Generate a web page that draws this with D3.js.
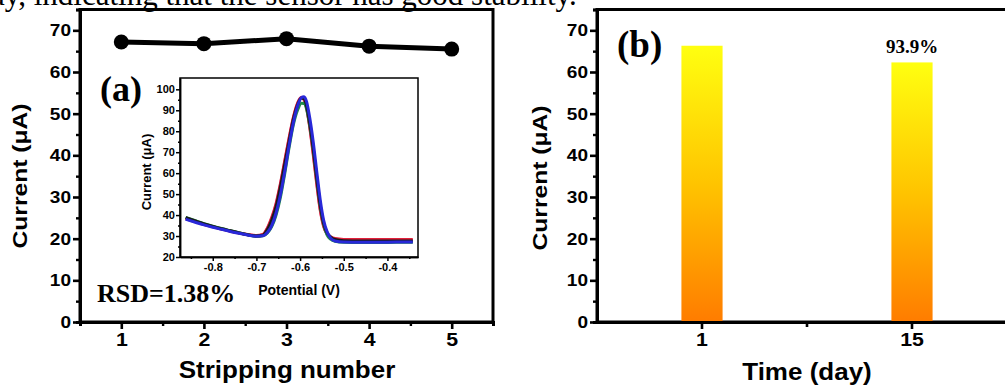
<!DOCTYPE html>
<html>
<head>
<meta charset="utf-8">
<script src="https://cdn.jsdelivr.net/npm/d3@7.9.0/dist/d3.min.js"></script>
<style>
  body { margin: 0; background: #fff; }
  svg { display: block; }
  .sans { font-family: "Liberation Sans", Arial, sans-serif; font-weight: bold; }
  .serif { font-family: "Liberation Serif", "Times New Roman", serif; }
  .axis path, .axis line { stroke: #000; }
  .axis text { font-family: "Liberation Sans", Arial, sans-serif; font-weight: bold; fill: #000; }
</style>
</head>
<body>
<svg id="chart" width="1005" height="385"></svg>
<script>
// ---- data ----
const caption = 'ay, indicating that the sensor has good stability.';

// (a) repeated stripping
const strippingNo = [1, 2, 3, 4, 5];
const strippingCurrent = [67.2, 66.8, 68.0, 66.2, 65.5];
const rsdLabel = 'RSD=1.38%';

// (a) inset: stripping voltammograms
const potential = [-0.862, -0.84, -0.82, -0.80, -0.78, -0.76, -0.74, -0.72, -0.70, -0.685,
  -0.675, -0.665, -0.655, -0.645, -0.635, -0.625, -0.615, -0.605, -0.597, -0.591,
  -0.585, -0.578, -0.57, -0.562, -0.554, -0.546, -0.538, -0.53, -0.52, -0.50,
  -0.46, -0.42, -0.38, -0.342];
const curvePink = [38.2, 36.8, 35.5, 34.4, 33.3, 32.3, 31.4, 30.6, 30.1, 30.7,
  33.5, 38.3, 45, 54.5, 65.5, 76.5, 86.5, 93.5, 96.2, 95.3,
  91.5, 82.5, 70, 56, 43, 35, 31, 29.4, 28.5, 28.1, 28.0, 28.0, 28.0, 28.0];
const curveRed = [38.5, 37.0, 35.6, 34.5, 33.4, 32.4, 31.5, 30.7, 30.2, 30.8,
  33.8, 38.8, 45.5, 55, 66, 77, 87, 93.8, 96, 95,
  91, 82, 69, 55, 42.5, 34.5, 31, 29.6, 28.8, 28.4, 28.3, 28.3, 28.4, 28.4];
const curveGreen = [38.9, 37.3, 35.9, 34.7, 33.6, 32.6, 31.6, 30.6, 29.9, 30.1,
  31.5, 34.5, 40, 48.5, 60, 72.5, 83.5, 90.5, 93.3, 93.2,
  90.5, 83, 71.5, 57.5, 44.5, 35.5, 30.5, 28.5, 27.5, 27, 26.9, 26.9, 27, 27];
const curveBlack = [38.8, 37.2, 35.8, 34.6, 33.5, 32.5, 31.5, 30.6, 30.0, 30.4,
  33.0, 37.5, 44, 53.5, 64.5, 75.5, 86, 93, 95.8, 95.5,
  92, 84, 72, 58, 45, 36, 31.5, 29.5, 28.4, 27.8, 27.6, 27.6, 27.6, 27.6];
const curveBlue = [38, 36.6, 35.3, 34.2, 33.2, 32.2, 31.3, 30.5, 29.9, 30.1,
  31.7, 35, 41, 49.8, 61, 73.5, 84.5, 92.5, 96, 96.5,
  94, 86.5, 75, 61, 47.5, 37.5, 32, 29, 27.6, 27.1, 27.0, 27.0, 27.1, 27.1];
const insetCurves = [
  { color: '#e0309a', values: curvePink },
  { color: '#e3203c', values: curveRed },
  { color: '#1f8a4a', values: curveGreen },
  { color: '#1a1a1a', values: curveBlack },
  { color: '#2828d8', values: curveBlue }
];

// (b) storage stability
const days = ['1', '15'];
const dayCurrent = [66.3, 62.3];
const retentionLabel = '93.9%';

// ---- helpers ----
const svg = d3.select('#chart');

function stretch(sel, k) {
  sel.each(function() {
    const w = this.getComputedTextLength();
    this.setAttribute('textLength', w * k);
    this.setAttribute('lengthAdjust', 'spacingAndGlyphs');
  });
}

function styleAxis(g, major, fontSize, k) {
  g.attr('class', 'axis');
  g.select('.domain').attr('stroke-width', 3);
  g.selectAll('.tick line').attr('stroke-width', major ? 2.6 : 2.4);
  g.selectAll('.tick text').style('font-size', fontSize + 'px').call(stretch, k);
}

// caption line, cropped at the top like the source figure
svg.append('text')
  .attr('class', 'serif')
  .attr('x', -9).attr('y', 5)
  .style('font-size', '31px')
  .text(caption);

// ---- panel (a) ----
const aLeft = 80, aRight = 493, plotBottom = 322;
const xA = d3.scaleLinear().domain([0.5, 5.5]).range([aLeft, aRight]);
const yI = d3.scaleLinear().domain([0, 75]).range([plotBottom, 9.5]);

const pa = svg.append('g');

pa.append('rect')
  .attr('x', aLeft).attr('y', yI(75))
  .attr('width', aRight - aLeft).attr('height', plotBottom - yI(75))
  .attr('fill', 'none').attr('stroke', '#000').attr('stroke-width', 3);

// minor ticks
pa.append('g').attr('transform', `translate(${aLeft},0)`)
  .call(d3.axisLeft(yI).tickValues(d3.range(5, 76, 10)).tickSize(4).tickFormat(''))
  .call(g => styleAxis(g, false, 10, 1));
pa.append('g').attr('transform', `translate(0,${plotBottom})`)
  .call(d3.axisBottom(xA).tickValues([1.5, 2.5, 3.5, 4.5]).tickSize(4).tickFormat(''))
  .call(g => styleAxis(g, false, 10, 1));

pa.append('g').attr('transform', `translate(${aLeft},0)`)
  .call(d3.axisLeft(yI).tickValues(d3.range(0, 71, 10)).tickSize(7).tickPadding(2).tickSizeOuter(0))
  .call(g => styleAxis(g, true, 17, 1.12));
pa.append('g').attr('transform', `translate(0,${plotBottom})`)
  .call(d3.axisBottom(xA).tickValues(strippingNo).tickSize(7).tickPadding(4).tickSizeOuter(0).tickFormat(d3.format('d')))
  .call(g => styleAxis(g, true, 18.5, 1.15));

const ptsA = strippingNo.map((d, i) => [d, strippingCurrent[i]]);
pa.append('path')
  .datum(ptsA)
  .attr('fill', 'none').attr('stroke', '#000').attr('stroke-width', 5)
  .attr('d', d3.line().x(d => xA(d[0])).y(d => yI(d[1])));
pa.selectAll('circle.pt')
  .data(ptsA)
  .join('circle')
  .attr('class', 'pt')
  .attr('cx', d => xA(d[0])).attr('cy', d => yI(d[1]))
  .attr('r', 7.5).attr('fill', '#000');

pa.append('text').attr('class', 'serif')
  .attr('x', 100).attr('y', 101)
  .style('font-size', '36px').style('font-weight', 'bold')
  .text('(a)');

pa.append('text').attr('class', 'serif')
  .attr('x', 97).attr('y', 302)
  .style('font-size', '26px').style('font-weight', 'bold')
  .text(rsdLabel);

pa.append('text').attr('class', 'sans')
  .attr('transform', `translate(27,176) rotate(-90)`)
  .attr('text-anchor', 'middle')
  .style('font-size', '20.5px')
  .text('Current (μA)')
  .call(stretch, 1.2);

pa.append('text').attr('class', 'sans')
  .attr('x', 287).attr('y', 378)
  .attr('text-anchor', 'middle')
  .style('font-size', '23px')
  .text('Stripping number')
  .call(stretch, 1.13);

// ---- inset ----
const ix0 = 180, ix1 = 418, iy0 = 78, iy1 = 257;
const xP = d3.scaleLinear().domain([-0.875, -0.33]).range([ix0, ix1]);
const yP = d3.scaleLinear().domain([20, 105.4]).range([iy1, iy0]);
const inset = pa.append('g');

inset.append('rect')
  .attr('x', ix0).attr('y', iy0)
  .attr('width', ix1 - ix0).attr('height', iy1 - iy0)
  .attr('fill', '#fff').attr('stroke', '#000').attr('stroke-width', 1.5);

const lineP = d3.line()
  .x((d, i) => xP(potential[i]))
  .y(d => yP(d))
  .curve(d3.curveMonotoneX);
inset.selectAll('path.cv')
  .data(insetCurves)
  .join('path')
  .attr('class', 'cv')
  .attr('fill', 'none')
  .attr('stroke', d => d.color)
  .attr('stroke-width', 3)
  .attr('d', d => lineP(d.values));

function styleInset(g, fs) {
  g.attr('class', 'axis');
  g.select('.domain').attr('stroke-width', 1.5);
  g.selectAll('.tick line').attr('stroke-width', 1.5);
  g.selectAll('.tick text').style('font-size', fs + 'px').call(stretch, 1.05);
}
const hyphenFmt = d => d.toFixed(1).replace('−', '-');
inset.append('g').attr('transform', `translate(${ix0},0)`)
  .call(d3.axisLeft(yP).tickValues(d3.range(25, 101, 10)).tickSize(2).tickFormat('').tickSizeOuter(0))
  .call(g => styleInset(g, 10));
inset.append('g').attr('transform', `translate(${ix0},0)`)
  .call(d3.axisLeft(yP).tickValues(d3.range(20, 101, 10)).tickSize(4).tickPadding(1).tickSizeOuter(0))
  .call(g => styleInset(g, 10.5));
inset.append('g').attr('transform', `translate(0,${iy1})`)
  .call(d3.axisBottom(xP).tickValues([-0.85, -0.75, -0.65, -0.55, -0.45, -0.35]).tickSize(2).tickFormat('').tickSizeOuter(0))
  .call(g => styleInset(g, 10));
inset.append('g').attr('transform', `translate(0,${iy1})`)
  .call(d3.axisBottom(xP).tickValues([-0.8, -0.7, -0.6, -0.5, -0.4]).tickSize(4).tickPadding(3).tickSizeOuter(0).tickFormat(hyphenFmt))
  .call(g => styleInset(g, 10.5));

inset.append('text').attr('class', 'sans')
  .attr('transform', `translate(151,172) rotate(-90)`)
  .attr('text-anchor', 'middle')
  .style('font-size', '13px')
  .text('Current (μA)');

inset.append('text').attr('class', 'sans')
  .attr('x', 299).attr('y', 295)
  .attr('text-anchor', 'middle')
  .style('font-size', '14px')
  .text('Potential (V)');

// ---- panel (b) ----
const bLeft = 597, bRight = 1017;
const xB = d3.scaleBand().domain(days).range([bLeft, bRight]).padding(0);
const pb = svg.append('g');

const grad = svg.append('defs').append('linearGradient')
  .attr('id', 'barGrad').attr('x1', 0).attr('y1', 0).attr('x2', 0).attr('y2', 1);
grad.append('stop').attr('offset', '0%').attr('stop-color', '#ffff10');
grad.append('stop').attr('offset', '50%').attr('stop-color', '#ffc400');
grad.append('stop').attr('offset', '100%').attr('stop-color', '#ff7c00');

pb.append('rect')
  .attr('x', bLeft).attr('y', yI(75))
  .attr('width', bRight - bLeft).attr('height', plotBottom - yI(75))
  .attr('fill', 'none').attr('stroke', '#000').attr('stroke-width', 3);

const barW = xB.bandwidth() * 0.196;
pb.selectAll('rect.bar')
  .data(days)
  .join('rect')
  .attr('class', 'bar')
  .attr('x', d => xB(d) + xB.bandwidth() / 2 - barW / 2)
  .attr('width', barW)
  .attr('y', (d, i) => yI(dayCurrent[i]))
  .attr('height', (d, i) => plotBottom - yI(dayCurrent[i]))
  .attr('fill', 'url(#barGrad)');

pb.append('g').attr('transform', `translate(${bLeft},0)`)
  .call(d3.axisLeft(yI).tickValues(d3.range(5, 76, 10)).tickSize(4).tickFormat(''))
  .call(g => styleAxis(g, false, 10, 1));
pb.append('g').attr('transform', `translate(${bLeft},0)`)
  .call(d3.axisLeft(yI).tickValues(d3.range(0, 71, 10)).tickSize(7).tickPadding(2).tickSizeOuter(0))
  .call(g => styleAxis(g, true, 17, 1.12));
pb.append('g').attr('transform', `translate(0,${plotBottom})`)
  .call(d3.axisBottom(xB).tickSize(7).tickPadding(4).tickSizeOuter(0))
  .call(g => styleAxis(g, true, 18.5, 1.15));
// tick between the two days
pb.append('line')
  .attr('x1', xB(days[1])).attr('x2', xB(days[1]))
  .attr('y1', plotBottom).attr('y2', plotBottom + 5)
  .attr('stroke', '#000').attr('stroke-width', 2.6);

pb.append('text').attr('class', 'serif')
  .attr('x', xB(days[1]) + xB.bandwidth() / 2).attr('y', yI(dayCurrent[1]) - 9)
  .attr('text-anchor', 'middle')
  .style('font-size', '19px').style('font-weight', 'bold')
  .text(retentionLabel);

pb.append('text').attr('class', 'serif')
  .attr('x', 617).attr('y', 57)
  .style('font-size', '37px').style('font-weight', 'bold')
  .text('(b)');

pb.append('text').attr('class', 'sans')
  .attr('transform', `translate(547,178) rotate(-90)`)
  .attr('text-anchor', 'middle')
  .style('font-size', '20.5px')
  .text('Current (μA)')
  .call(stretch, 1.2);

pb.append('text').attr('class', 'sans')
  .attr('x', 807).attr('y', 380)
  .attr('text-anchor', 'middle')
  .style('font-size', '23px')
  .text('Time (day)')
  .call(stretch, 1.13);
</script>
</body>
</html>
